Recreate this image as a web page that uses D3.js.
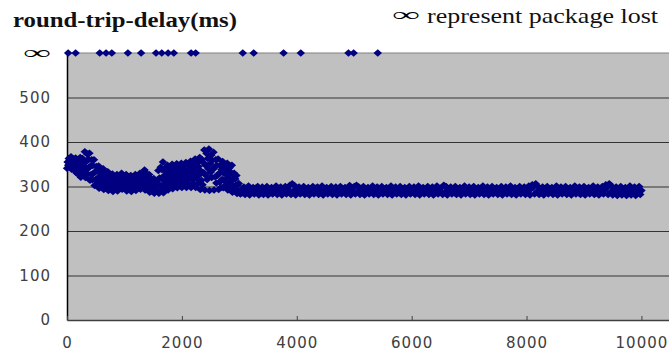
<!DOCTYPE html>
<html>
<head>
<meta charset="utf-8">
<script src="https://cdn.jsdelivr.net/npm/d3@7"></script>
<style>
  body { margin: 0; background: #fff; }
  svg { display: block; }
</style>
</head>
<body>
<div id="chart"></div>
<script>
const xTicks = [0, 2000, 4000, 6000, 8000, 10000];
const yTicks = [0, 100, 200, 300, 400, 500];
const lostLevel = 600;   // plotted on the "∞" row

// packets that never came back
const lostX = [20, 150, 570, 680, 780, 1060, 1290, 1550, 1650, 1760, 1860,
  2160, 2240, 3060, 3250, 3770, 4070, 4900, 4990, 5410];

// delay samples, x = 0..3000 every 10
const earlyStart = 0, earlyStep = 10;
const earlyDelay = [
  341, 355, 348, 363, 344, 360, 352, 367, 339, 354,
  347, 362, 340, 356, 347, 364, 331, 349, 337, 358,
  327, 352, 340, 365, 321, 347, 335, 363, 328, 357,
  345, 378, 320, 355, 338, 373, 328, 361, 342, 375,
  314, 346, 327, 360, 315, 347, 329, 360, 302, 333,
  316, 345, 306, 335, 319, 346, 296, 323, 309, 336,
  301, 327, 314, 340, 293, 319, 306, 330, 298, 323,
  310, 333, 291, 314, 303, 325, 296, 318, 306, 328,
  289, 311, 300, 321, 294, 315, 305, 327, 290, 312,
  302, 324, 297, 319, 309, 330, 294, 314, 303, 323,
  297, 318, 306, 327, 290, 311, 300, 321, 294, 315,
  304, 325, 289, 310, 300, 321, 294, 316, 306, 327,
  291, 312, 302, 323, 298, 318, 308, 330, 294, 315,
  305, 328, 299, 324, 311, 337, 292, 317, 303, 328,
  295, 318, 305, 327, 287, 307, 296, 316, 290, 309,
  299, 318, 285, 303, 294, 312, 290, 314, 305, 336,
  285, 319, 303, 343, 295, 338, 316, 355, 286, 324,
  306, 341, 297, 332, 315, 348, 292, 324, 309, 341,
  302, 333, 318, 350, 295, 326, 311, 342, 304, 335,
  320, 351, 297, 328, 313, 344, 305, 336, 321, 352,
  298, 329, 314, 345, 306, 337, 322, 354, 298, 330,
  315, 347, 306, 339, 323, 357, 298, 332, 316, 350,
  307, 343, 325, 362, 298, 335, 317, 354, 307, 345,
  326, 365, 293, 335, 314, 360, 304, 354, 331, 382,
  292, 348, 325, 374, 316, 363, 340, 384, 291, 351,
  332, 370, 320, 359, 338, 377, 292, 344, 322, 360,
  308, 347, 325, 362, 293, 330, 310, 348, 298, 338,
  316, 356, 297, 330, 313, 346, 303, 336, 319, 352,
  292, 325, 308, 342, 298, 332, 314, 348, 287, 318,
  302, 330, 292, 317, 303, 325, 284, 303, 292, 307,
  286
];

// delay samples, x = 3020..10000 every 20
const lateStart = 3020, lateStep = 20;
const lateDelay = [
  283, 292, 286, 299, 282, 295, 289, 301, 281, 293, 287, 298, 283, 296, 288, 300, 281, 292, 286, 299,
  282, 294, 289, 300, 281, 293, 286, 298, 283, 295, 288, 301, 282, 292, 287, 299, 281, 294, 289, 300,
  283, 295, 288, 303, 282, 306, 290, 302, 281, 293, 287, 299, 283, 295, 289, 300, 282, 292, 286, 298,
  281, 294, 288, 300, 283, 296, 289, 299, 282, 293, 286, 301, 281, 295, 288, 298, 283, 292, 287, 300,
  282, 294, 289, 299, 281, 293, 286, 300, 283, 295, 288, 298, 282, 292, 287, 302, 281, 294, 289, 300,
  283, 303, 288, 299, 282, 293, 286, 300, 281, 295, 289, 298, 283, 292, 287, 301, 282, 294, 288, 299,
  281, 293, 286, 300, 283, 295, 289, 298, 282, 292, 287, 301, 281, 294, 288, 299, 283, 293, 286, 300,
  282, 295, 289, 298, 281, 292, 287, 300, 283, 294, 288, 299, 282, 293, 286, 301, 281, 295, 289, 298,
  283, 292, 287, 300, 282, 294, 288, 299, 281, 293, 286, 301, 283, 295, 289, 298, 282, 303, 287, 300,
  281, 294, 288, 299, 283, 293, 286, 300, 282, 295, 289, 298, 281, 292, 287, 301, 283, 294, 288, 299,
  282, 293, 286, 300, 281, 295, 289, 298, 283, 292, 287, 301, 282, 294, 288, 299, 281, 293, 286, 300,
  283, 295, 289, 298, 282, 292, 287, 300, 281, 294, 288, 299, 283, 293, 286, 301, 282, 295, 289, 298,
  281, 292, 287, 300, 283, 294, 288, 299, 282, 293, 286, 301, 281, 295, 304, 299, 283, 306, 288, 300,
  282, 293, 286, 299, 281, 295, 289, 300, 283, 292, 287, 298, 282, 294, 288, 301, 281, 293, 286, 299,
  283, 295, 289, 300, 282, 292, 287, 298, 281, 294, 288, 301, 283, 293, 286, 299, 282, 295, 289, 300,
  281, 292, 287, 298, 283, 294, 288, 301, 282, 293, 286, 299, 281, 295, 289, 300, 283, 292, 304, 298,
  282, 306, 287, 301, 281, 294, 288, 299, 280, 293, 286, 300, 281, 295, 289, 298, 280, 292, 287, 301,
  281, 294, 288, 299, 280, 293, 286, 300, 282, 291
];

const width = 669, height = 352;
const margin = { top: 53, right: 0, bottom: 32, left: 67 };
const plotW = width - margin.left - margin.right;

const x = d3.scaleLinear().domain([0, 10480]).range([margin.left, width - margin.right]);
const y = d3.scaleLinear().domain([0, lostLevel]).range([height - margin.bottom, margin.top]);

const points = earlyDelay.map((v, i) => ({ x: earlyStart + i * earlyStep, v }))
  .concat(lateDelay.map((v, i) => ({ x: lateStart + i * lateStep, v })))
  .concat(lostX.map(d => ({ x: d, v: lostLevel })));

const svg = d3.select('#chart').append('svg')
  .attr('width', width)
  .attr('height', height);

// plot area
svg.append('rect')
  .attr('x', margin.left)
  .attr('y', margin.top)
  .attr('width', plotW)
  .attr('height', y(0) - margin.top)
  .attr('fill', '#c0c0c0');

svg.append('g')
  .attr('transform', `translate(${margin.left},0)`)
  .call(d3.axisLeft(y).tickValues(yTicks.slice(1)).tickSize(-plotW).tickFormat(''))
  .call(g => g.select('.domain').remove())
  .selectAll('line').attr('stroke', '#333');

svg.append('line')
  .attr('x1', margin.left).attr('x2', width)
  .attr('y1', y(lostLevel)).attr('y2', y(lostLevel))
  .attr('stroke', '#808080');

// axes
let yAx = svg.append('g')
  .attr('transform', `translate(${margin.left},0)`)
  .call(d3.axisLeft(y)
    .tickValues(yTicks.concat([lostLevel]))
    .tickSize(0)
    .tickPadding(16)
    .tickFormat(d => d === lostLevel ? '∞' : d));
yAx.select('.domain').attr('stroke', '#000').attr('stroke-width', 1.5);
yAx.selectAll('text')
  .attr('font-family', 'DejaVu Sans')
  .attr('font-size', '15px')
  .attr('letter-spacing', '1px')
  .attr('fill', '#404040');
yAx.selectAll('.tick').filter(d => d === lostLevel).select('text')
  .attr('font-family', 'Liberation Serif')
  .attr('font-weight', 'bold')
  .attr('font-size', '19px')
  .attr('letter-spacing', null)
  .attr('fill', '#000')
  .attr('dy', '0.3em')
  .attr('textLength', 27)
  .attr('lengthAdjust', 'spacingAndGlyphs');

let xAx = svg.append('g')
  .attr('transform', `translate(0,${y(0)})`)
  .call(d3.axisBottom(x)
    .tickValues(xTicks)
    .tickSizeInner(-4)
    .tickSizeOuter(0)
    .tickPadding(17)
    .tickFormat(d => d));
xAx.select('.domain').attr('stroke', '#404040').attr('stroke-width', 1.5);
xAx.selectAll('line').attr('stroke', '#404040');
xAx.selectAll('text')
  .attr('font-family', 'DejaVu Sans')
  .attr('font-size', '15px')
  .attr('letter-spacing', '1px')
  .attr('fill', '#404040');

// markers
svg.append('g').selectAll('path')
  .data(points)
  .join('path')
  .attr('d', 'M0,-3.75L4.25,0L0,3.75L-4.25,0Z')
  .attr('transform', d => `translate(${x(d.x)},${y(d.v)})`)
  .attr('fill', '#000080');

// titles
svg.append('text')
  .attr('x', 13).attr('y', 27)
  .attr('font-family', 'Liberation Serif')
  .attr('font-weight', 'bold')
  .attr('font-size', '20px')
  .attr('fill', '#111')
  .attr('textLength', 224)
  .attr('lengthAdjust', 'spacingAndGlyphs')
  .text('round-trip-delay(ms)');

svg.append('text')
  .attr('x', 393).attr('y', 21)
  .attr('font-family', 'Liberation Serif')
  .attr('font-weight', 'bold')
  .attr('font-size', '19px')
  .attr('fill', '#000')
  .attr('textLength', 27)
  .attr('lengthAdjust', 'spacingAndGlyphs')
  .text('∞');

svg.append('text')
  .attr('x', 427).attr('y', 23)
  .attr('font-family', 'Liberation Serif')
  .attr('font-size', '22px')
  .attr('fill', '#111')
  .attr('textLength', 231)
  .attr('lengthAdjust', 'spacingAndGlyphs')
  .text('represent package lost');
</script>
</body>
</html>
